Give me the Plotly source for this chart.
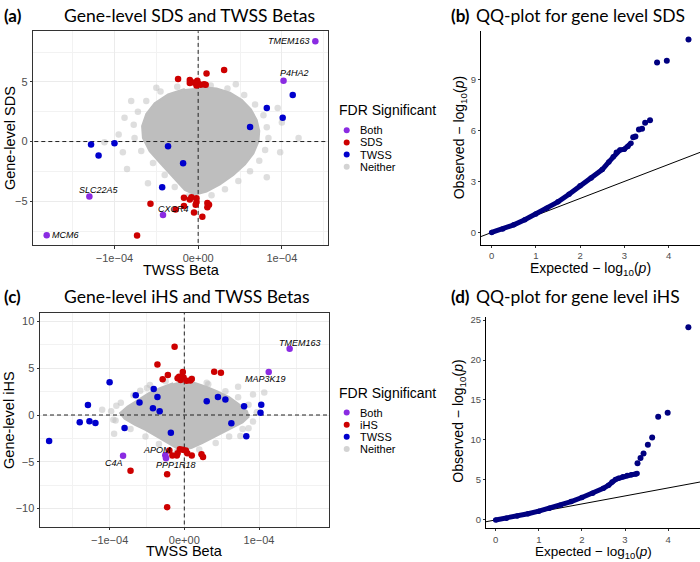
import plotly.graph_objects as go

W, H = 700, 562
E4 = 1e-4  # TWSS beta values below are stored in units of 1e-4

# ---------------- Panel (a): Gene-level SDS vs TWSS beta ----------------
a_both_x = [1.40, 1.02, -1.30, -0.42, -1.81]
a_both_y = [8.40, 5.10, -4.60, -6.15, -7.85]
a_both_genes = ["TMEM163", "P4HA2", "SLC22A5", "CXCR4", "MCM6"]

a_sds_x = [-0.24, -0.10, -0.10, -0.05, -0.01, 0.00, 0.03, 0.07, 0.09, -0.02, 0.10, 0.31,
           -0.17, -0.08, -0.02, -0.02, -0.03, -0.57, -0.27, -0.17, -0.05, 0.05, 0.11, 0.11,
           0.13, -0.73, -0.10]
a_sds_y = [5.25, 5.15, 4.90, 4.95, 5.10, 4.85, 4.75, 4.80, 4.75, 4.70, 5.70, 6.00,
           -4.70, -4.67, -4.75, -5.06, -5.30, -5.22, -5.70, -5.40, -5.95, -6.30, -5.15, -5.50,
           -5.30, -7.87, -4.85]

a_twss_x = [1.13, 0.82, 1.01, 0.62, -1.28, -1.00, -1.19, -0.36, -0.18, -0.43]
a_twss_y = [3.90, 2.80, 2.00, 1.22, -0.25, -0.14, -1.17, -0.40, -1.81, -3.83]

# 'Neither' genes: outline of the dense core, plus sparse genes at its edge and beyond
a_core_x = [0.05, 0.22, 0.38, 0.52, 0.63, 0.70, 0.73, 0.72, 0.66, 0.56, 0.42, 0.26, 0.10,
            -0.04, -0.16, -0.30, -0.44, -0.58, -0.66, -0.67, -0.62, -0.52, -0.36, -0.16]
a_core_y = [4.55, 4.45, 4.10, 3.50, 2.70, 1.80, 0.90, 0.00, -1.00, -1.90, -2.80, -3.60, -4.20,
            -4.45, -4.05, -3.00, -1.90, -0.80, 0.30, 1.30, 2.30, 3.20, 3.95, 4.40]
a_sparse_x = [0.15, 0.35, 0.55, 0.68, 0.78, 0.82, 0.84, 0.80, 0.73, 0.62, 0.48, 0.32, 0.16,
              -0.12, -0.28, -0.40, -0.54, -0.68, -0.76, -0.77, -0.72, -0.62, -0.45, -0.25,
              -1.12, -0.95, -0.90, -0.88, -0.85, -0.80, 0.95, 1.00, 1.20, 0.98, 0.82, -0.60,
              0.45, -0.50]
a_sparse_y = [4.70, 4.45, 3.90, 3.10, 2.20, 1.20, 0.30, -0.70, -1.60, -2.50, -3.30, -4.00, -4.50,
              -4.60, -3.80, -2.80, -1.80, -0.80, 0.30, 1.40, 2.50, 3.40, 4.20, 4.60,
              -0.05, 0.60, -0.90, 2.00, -2.30, 3.40, 2.80, 1.60, 0.30, -0.90, -3.00, -3.50,
              4.80, 4.50]

# ---------------- Panel (c): Gene-level iHS vs TWSS beta ----------------
c_both_x = [1.41, 1.13, -0.82, -0.255, -0.245]
c_both_y = [7.08, 4.59, -4.35, -4.30, -4.62]
c_both_genes = ["TMEM163", "MAP3K19", "C4A", "APOM", "PPP1R18"]

c_ihs_x = [-0.13, -0.36, -0.22, -0.29, -0.02, -0.01, -0.09, -0.05, 0.03, 0.10, 0.40, 0.49,
           -0.07, 0.08,
           -0.20, -0.09, -0.02, 0.02, 0.04, 0.10, -0.10, 0.23, 0.25, -0.72, -0.23, -0.23,
           -0.16, -0.06]
c_ihs_y = [7.30, 5.41, 4.27, 3.81, 4.60, 4.00, 3.93, 3.74, 3.67, 3.85, 4.63, 4.52,
           4.10, 3.70,
           -3.80, -4.08, -3.72, -3.80, -4.08, -4.33, -4.33, -4.20, -4.50, -5.96, -6.32, -9.86,
           -4.33, -3.65]

c_twss_x = [-1.00, -0.41, -0.65, -0.60, -0.36, -0.42, -0.33, -1.29, -1.40, -1.27, -1.19, -1.81,
            -0.80, -0.18, 0.30, 0.45, 0.55, 0.63, 0.80, 0.83, 1.03, 1.02]
c_twss_y = [3.49, 2.78, 2.10, 1.35, 1.92, 0.71, 0.39, 1.07, -0.78, -0.68, -0.85, -2.78,
            -1.39, -1.89, 1.46, 1.92, 1.67, -0.87, 0.93, -2.28, 1.10, 0.25]

c_core_x = [0.00, 0.15, 0.30, 0.45, 0.60, 0.74, 0.84, 0.86, 0.78, 0.66, 0.52, 0.38, 0.24,
            0.10, 0.00, -0.12, -0.24, -0.38, -0.52, -0.66, -0.80, -0.86, -0.76, -0.62, -0.48,
            -0.32, -0.15]
c_core_y = [3.70, 3.40, 3.00, 2.50, 1.90, 1.10, 0.40, -0.20, -0.80, -1.30, -1.80, -2.40, -3.00,
            -3.50, -3.70, -3.45, -2.90, -2.20, -1.60, -1.05, -0.40, 0.20, 0.90, 1.60, 2.30,
            2.90, 3.40]
c_sparse_x = [0.10, 0.32, 0.55, 0.72, 0.86, 0.97, 0.92, 0.78, 0.60, 0.42, 0.20, -0.10, -0.34,
              -0.52, -0.72, -0.92, -0.98, -0.85, -0.68, -0.50, -0.25,
              -1.10, -0.91, -0.95, -0.94, 0.72, 1.07, 0.86, 0.75, 0.92, -0.59, -0.46, 0.30]
c_sparse_y = [3.90, 3.30, 2.55, 1.90, 1.10, 0.30, -0.70, -1.50, -2.30, -3.00, -3.70, -3.90, -3.10,
              -2.30, -1.50, -0.60, 0.40, 1.30, 2.10, 2.90, 3.60,
              0.56, 1.00, -0.50, -2.00, 3.03, 2.40, -1.42, -2.24, 2.20, 2.60, 3.20, 3.45]

# ---------------- Panel (b)/(d): QQ plots ----------------
b_band_exp = [0.00, 0.25, 0.50, 0.75, 1.00, 1.25, 1.50, 1.75, 2.00, 2.25, 2.50, 2.65, 2.75,
              2.82, 2.90, 3.00, 3.08, 3.15]
b_band_obs = [0.00, 0.20, 0.45, 0.75, 1.08, 1.42, 1.80, 2.25, 2.75, 3.20, 3.70, 4.15, 4.45,
              4.72, 4.85, 4.90, 5.05, 5.25]
b_top_exp = [3.20, 3.25, 3.33, 3.40, 3.47, 3.58, 3.74, 3.96, 4.45]
b_top_obs = [5.60, 5.65, 6.05, 6.10, 6.45, 6.60, 10.00, 10.10, 11.35]

d_band_exp = [0.00, 0.25, 0.50, 0.75, 1.00, 1.25, 1.50, 1.75, 2.00, 2.25, 2.50, 2.62, 2.70,
              2.78, 2.85, 2.95, 3.05, 3.15, 3.25, 3.28]
d_band_obs = [0.00, 0.22, 0.48, 0.77, 1.10, 1.45, 1.83, 2.30, 2.80, 3.35, 3.95, 4.35, 4.75,
              5.05, 5.20, 5.40, 5.55, 5.65, 5.75, 5.80]
d_top_exp = [3.29, 3.36, 3.43, 3.53, 3.63, 3.77, 3.99, 4.47]
d_top_obs = [7.10, 7.75, 8.30, 9.40, 10.30, 12.90, 13.40, 24.10]

null_line = [-1, 6]  # y = x reference

# ---------------- ticks / legend text ----------------
beta_tickvals = [-1e-4, 0, 1e-4]
beta_ticktext = ["\u22121e\u221204", "0e+00", "1e\u221204"]
beta_minor = [-1.5e-4, -0.5e-4, 0.5e-4, 1.5e-4]
a_ytickvals = [-5, 0, 5]
a_yticktext = ["\u22125", "0", "5"]
a_yminor = [-7.5, -2.5, 2.5, 7.5]
c_ytickvals = [-10, -5, 0, 5, 10]
c_yticktext = ["\u221210", "\u22125", "0", "5", "10"]
c_yminor = [-7.5, -2.5, 2.5, 7.5]
b_ytickvals = [0, 3, 6, 9]
d_ytickvals = [0, 5, 10, 15, 20, 25]
qq_xtickvals = [0, 1, 2, 3, 4]
a_legend = ["Both", "SDS", "TWSS", "Neither"]
c_legend = ["Both", "iHS", "TWSS", "Neither"]

# ---------------- styles ----------------
PURPLE = "#8A2BE2"
RED = "#CD0000"
BLUE = "#0000CD"
NAVY = "#000080"
CORE = "#BEBEBE"
SPARSE = "rgba(190,190,190,0.5)"
FONT = "Liberation Sans, Arial, sans-serif"
TFONT = "Lato, Open Sans, sans-serif"
MS = 6.5


def sc(v):
    return [t * E4 for t in v]


def px(xp):
    return xp / W


def py(yp):
    return 1 - yp / H


fig = go.Figure()


def scatter_panel(xa, ya, core, sparse, sig, twss, both):
    fig.add_trace(go.Scatter(x=sc(sparse[0]), y=sparse[1], xaxis=xa, yaxis=ya, mode="markers",
                             marker=dict(color=SPARSE, size=MS), showlegend=False))
    fig.add_trace(go.Scatter(x=sc(core[0]), y=core[1], xaxis=xa, yaxis=ya, mode="lines",
                             fill="toself", fillcolor=CORE, line=dict(color=CORE, width=2),
                             hoverinfo="skip", showlegend=False))
    fig.add_trace(go.Scatter(x=[0, 0], y=[-100, 100], xaxis=xa, yaxis=ya, mode="lines",
                             line=dict(color="#222222", width=1, dash="4px,3px"), showlegend=False))
    fig.add_trace(go.Scatter(x=[-1, 1], y=[0, 0], xaxis=xa, yaxis=ya, mode="lines",
                             line=dict(color="#222222", width=1, dash="4px,3px"), showlegend=False))
    fig.add_trace(go.Scatter(x=sc(twss[0]), y=twss[1], xaxis=xa, yaxis=ya, mode="markers",
                             marker=dict(color=BLUE, size=MS), showlegend=False))
    fig.add_trace(go.Scatter(x=sc(sig[0]), y=sig[1], xaxis=xa, yaxis=ya, mode="markers",
                             marker=dict(color=RED, size=MS), showlegend=False))
    fig.add_trace(go.Scatter(x=sc(both[0]), y=both[1], xaxis=xa, yaxis=ya, mode="markers",
                             marker=dict(color=PURPLE, size=MS), showlegend=False))


scatter_panel("x", "y", (a_core_x, a_core_y), (a_sparse_x, a_sparse_y),
              (a_sds_x, a_sds_y), (a_twss_x, a_twss_y), (a_both_x, a_both_y))
scatter_panel("x3", "y3", (c_core_x, c_core_y), (c_sparse_x, c_sparse_y),
              (c_ihs_x, c_ihs_y), (c_twss_x, c_twss_y), (c_both_x, c_both_y))


def qq_panel(xa, ya, bx, by, tx, ty):
    fig.add_trace(go.Scatter(x=null_line, y=null_line, xaxis=xa, yaxis=ya, mode="lines",
                             line=dict(color="black", width=1), showlegend=False))
    fig.add_trace(go.Scatter(x=bx, y=by, xaxis=xa, yaxis=ya, mode="lines+markers",
                             line=dict(color=NAVY, width=5), marker=dict(color=NAVY, size=5.5),
                             showlegend=False))
    fig.add_trace(go.Scatter(x=tx, y=ty, xaxis=xa, yaxis=ya, mode="markers",
                             marker=dict(color=NAVY, size=6), showlegend=False))


qq_panel("x2", "y2", b_band_exp, b_band_obs, b_top_exp, b_top_obs)
qq_panel("x4", "y4", d_band_exp, d_band_obs, d_top_exp, d_top_obs)

bw_common = dict(showline=True, mirror=True, linecolor="#333333", linewidth=1,
                 showgrid=True, gridcolor="#EBEBEB", gridwidth=1, zeroline=False,
                 ticks="outside", ticklen=2.5, tickcolor="#333333", tickwidth=1,
                 tickfont=dict(family=FONT, size=11, color="#4D4D4D"), tickmode="array")
classic = dict(showline=True, mirror=False, linecolor="black", linewidth=1, showgrid=False,
               zeroline=False, ticks="outside", ticklen=2, tickcolor="#333333", tickwidth=1,
               tickfont=dict(family=FONT, size=9.5, color="#4D4D4D"), tickmode="array")
minor_grid = dict(tickmode="array", showgrid=True, gridcolor="#F2F2F2", gridwidth=0.6, ticks="")

fig.update_layout(
    width=W, height=H, margin=dict(l=0, r=0, t=0, b=0),
    paper_bgcolor="white", plot_bgcolor="white", showlegend=False,
    xaxis=dict(bw_common, domain=[px(33.3), px(328.3)], range=[-1.97e-4, 1.555e-4], anchor="y",
               tickvals=beta_tickvals, ticktext=beta_ticktext,
               minor=dict(minor_grid, tickvals=beta_minor)),
    yaxis=dict(bw_common, domain=[py(243.3), py(28.3)], range=[-8.67, 9.25], anchor="x",
               tickvals=a_ytickvals, ticktext=a_yticktext,
               minor=dict(minor_grid, tickvals=a_yminor)),
    xaxis3=dict(bw_common, domain=[px(40), px(329.3)], range=[-1.932e-4, 1.941e-4], anchor="y3",
                tickvals=beta_tickvals, ticktext=beta_ticktext,
                minor=dict(minor_grid, tickvals=beta_minor)),
    yaxis3=dict(bw_common, domain=[py(526.7), py(311.7)], range=[-11.96, 10.9], anchor="x3",
                tickvals=c_ytickvals, ticktext=c_yticktext,
                minor=dict(minor_grid, tickvals=c_yminor)),
    xaxis2=dict(classic, domain=[px(481), 1.0], range=[-0.24, 4.71], anchor="y2",
                tickvals=qq_xtickvals),
    yaxis2=dict(classic, domain=[py(243), py(28.3)], range=[-0.72, 11.84], anchor="x2",
                tickvals=b_ytickvals),
    xaxis4=dict(classic, domain=[px(486), 1.0], range=[-0.225, 4.74], anchor="y4",
                tickvals=qq_xtickvals),
    yaxis4=dict(classic, domain=[py(528.3), py(316)], range=[-1.07, 25.34], anchor="x4",
                tickvals=d_ytickvals),
)

ann = []


def text(x, y, t, size, family=FONT, color="black", angle=0, xanchor="center",
         yanchor="middle", bold=False):
    if bold:
        t = "<b>" + t + "</b>"
    ann.append(dict(x=px(x), y=py(y), xref="paper", yref="paper", text=t, showarrow=False,
                    textangle=angle, xanchor=xanchor, yanchor=yanchor, borderpad=0,
                    font=dict(size=size, family=family, color=color)))


# panel titles
text(3, 13, "(a)", 17, TFONT, xanchor="left", bold=True)
text(63, 13, "Gene-level SDS and TWSS Betas", 17.5, TFONT, xanchor="left")
text(450, 13, "(b)", 17, TFONT, xanchor="left", bold=True)
text(475, 13, "QQ-plot for gene level SDS", 17.5, TFONT, xanchor="left")
text(3, 295, "(c)", 17, TFONT, xanchor="left", bold=True)
text(63, 295, "Gene-level iHS and TWSS Betas", 17.5, TFONT, xanchor="left")
text(450, 295, "(d)", 17, TFONT, xanchor="left", bold=True)
text(475, 295, "QQ-plot for gene level iHS", 17.5, TFONT, xanchor="left")

# axis titles
text(181, 268.5, "TWSS Beta", 14.5)
text(184.6, 550.5, "TWSS Beta", 14.5)
text(10, 135.8, "Gene-level SDS", 14.5, angle=-90)
text(9, 419.2, "Gene-level iHS", 14.5, angle=-90)
text(460, 136, "Observed \u2212 log<sub>10</sub>(<i>p</i>)", 14, angle=-90)
text(459, 421, "Observed \u2212 log<sub>10</sub>(<i>p</i>)", 14, angle=-90)
text(590, 257, "Expected \u2212 log<sub>10</sub>(<i>p</i>)", 14, yanchor="top")
text(593, 543, "Expected \u2212 log<sub>10</sub>(<i>p</i>)", 13.5, yanchor="top")

# legends (drawn manually)
shapes = []
leg_colors = [PURPLE, RED, BLUE, "#D3D3D3"]
for top, labels in ((108, a_legend), (391.7, c_legend)):
    text(338, top, "FDR Significant", 14, xanchor="left")
    for i, (lab, col) in enumerate(zip(labels, leg_colors)):
        yy = top + 20 + 12.2 * i
        text(359, yy, lab, 11, xanchor="left")
        shapes.append(dict(type="circle", xref="paper", yref="paper", xsizemode="pixel",
                           ysizemode="pixel", xanchor=px(346.7), yanchor=py(yy),
                           x0=-3, x1=3, y0=-3, y1=3, fillcolor=col, line=dict(width=0)))

# gene labels (offsets in pixels: xshift, yshift, xanchor)
a_lab_style = [(-4, 0, "right"), (-5, 8, "left"), (10, 6, "center"), (10, 6, "center"), (4, 0, "left")]
c_lab_style = [(10, 6, "center"), (-3, -7, "center"), (-9, -7, "center"), (-8, 5, "center"), (10, -7, "center")]
for xa, ya, xs, ys, genes, style in (("x", "y", a_both_x, a_both_y, a_both_genes, a_lab_style),
                                     ("x3", "y3", c_both_x, c_both_y, c_both_genes, c_lab_style)):
    for gx, gy, g, (dx, dy, anc) in zip(sc(xs), ys, genes, style):
        ann.append(dict(x=gx, y=gy, xref=xa, yref=ya, text="<i>" + g + "</i>", showarrow=False,
                        xanchor=anc, yanchor="middle", xshift=dx, yshift=dy, borderpad=0,
                        font=dict(size=9, family=FONT, color="black")))

fig.update_layout(annotations=ann, shapes=shapes)
fig.write_html("out.html", config={"displayModeBar": False},
               post_script="document.body.style.margin='0';document.body.style.padding='0';")
